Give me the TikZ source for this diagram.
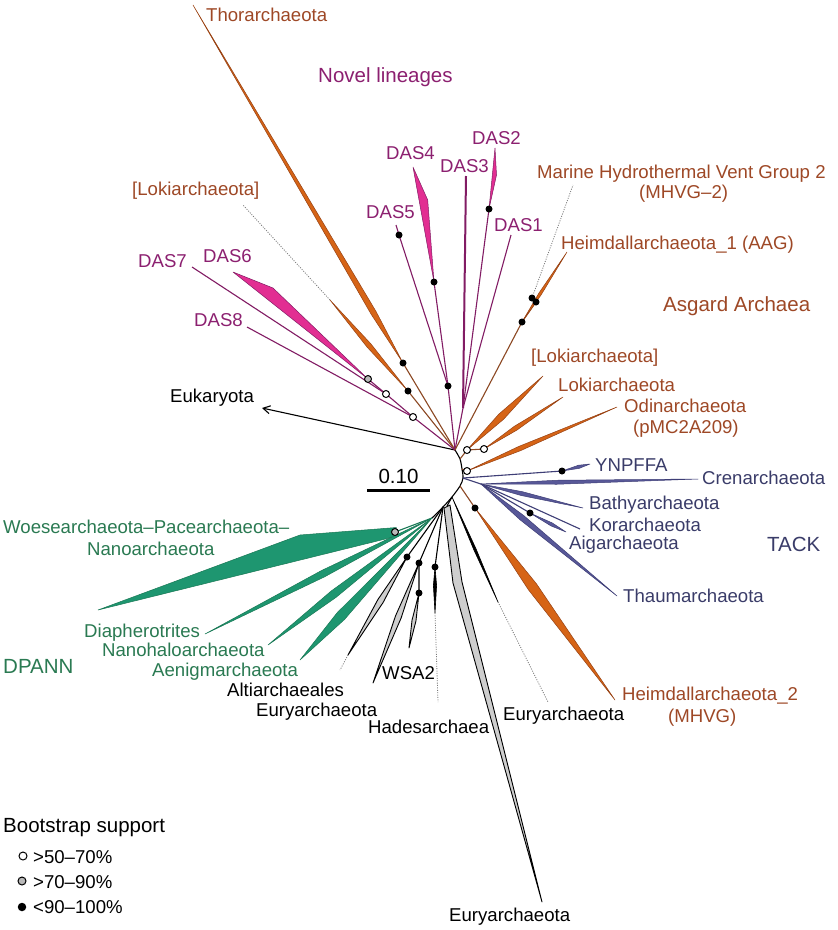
\documentclass[tikz,border=0pt]{standalone}
\usepackage{fontspec}
\setmainfont{Liberation Sans}
\usetikzlibrary{calc,arrows.meta}
\definecolor{asgfill}{RGB}{214,100,22}
\definecolor{asgdark}{RGB}{150,65,20}
\definecolor{asgline}{RGB}{140,72,35}
\definecolor{asgtext}{RGB}{158,72,38}
\definecolor{dasfill}{RGB}{226,46,146}
\definecolor{dasline}{RGB}{130,28,100}
\definecolor{dastext}{RGB}{140,32,112}
\definecolor{dpfill}{RGB}{30,150,112}
\definecolor{dpline}{RGB}{25,120,85}
\definecolor{dptext}{RGB}{42,122,82}
\definecolor{tkfill}{RGB}{88,88,152}
\definecolor{tkline}{RGB}{62,62,118}
\definecolor{tktext}{RGB}{58,60,105}
\definecolor{gyfill}{RGB}{206,206,206}
\definecolor{dotgray}{RGB}{120,120,120}
\newcommand\kite[5]{%
  \path ($(#1)!#3!(#2)$) coordinate (kitem);
  \filldraw[#5] (#1) -- ($(kitem)!#4!90:(#2)$) -- (#2) -- ($(kitem)!#4!-90:(#2)$) -- cycle;}
\tikzset{
  asgW/.style={fill=asgfill, draw=asgdark, line width=0.5pt, line join=round},
  asgL/.style={draw=asgline, line width=1.1pt},
  dasW/.style={fill=dasfill, draw=dasline, line width=0.5pt, line join=round},
  dasL/.style={draw=dasline, line width=1.1pt},
  dpW/.style={fill=dpfill, draw=dpline, line width=0.5pt, line join=round},
  dpL/.style={draw=dpline, line width=1.1pt},
  tkW/.style={fill=tkfill, draw=tkline, line width=0.5pt, line join=round},
  tkL/.style={draw=tkline, line width=1.1pt},
  gyW/.style={fill=gyfill, draw=black, line width=0.9pt, line join=round},
  bkW/.style={fill=black, draw=black, line width=0.6pt, line join=round},
  bkL/.style={draw=black, line width=1.1pt},
  dotL/.style={draw=dotgray, line width=0.8pt, dash pattern=on 1pt off 1.4pt},
  bs/.style={circle, fill=black, inner sep=0pt, minimum size=7pt},
  os/.style={circle, draw=black, fill=white, line width=1pt, inner sep=0pt, minimum size=7pt},
  gs/.style={circle, draw=black, fill=gray!55, line width=1pt, inner sep=0pt, minimum size=7pt},
  lab/.style={font=\fontsize{18.6}{22}\selectfont, inner sep=0pt, anchor=base west},
  grp/.style={font=\fontsize{20.5}{24}\selectfont, inner sep=0pt, anchor=base west},
}
\begin{document}
\begin{tikzpicture}[x=1pt,y=-1pt]
\fill[white] (0,0) rectangle (838,930);
\useasboundingbox (0,0) rectangle (838,930);
% ---------- coordinates ----------
\coordinate (J0) at (455,450);
\coordinate (JA) at (460,459);
\coordinate (JO) at (462,469);
\coordinate (JT) at (463,478);
\coordinate (JH) at (460,486);
\coordinate (JE) at (452,497);
\coordinate (JW) at (443,507);
\coordinate (JD) at (432,518);
% upper left
\coordinate (Dthor) at (403,363);
\coordinate (Tthor) at (193,5);
\coordinate (DlokL) at (408,391);
\coordinate (WlokL) at (330,300);
\coordinate (ElokL) at (243,205);
\coordinate (O8) at (413,417);
\coordinate (T8) at (247,327);
\coordinate (O7) at (386,394);
\coordinate (T7) at (192,267);
\coordinate (O6) at (368,379);
\coordinate (W6a) at (273,288);
\coordinate (T6) at (233,272);
\coordinate (D45) at (448,386);
\coordinate (D5) at (399,235);
\coordinate (T5) at (396,225);
\coordinate (D4) at (434,282);
\coordinate (W4a) at (427.7,200);
\coordinate (T4) at (413,167);
\coordinate (J123) at (463,408);
\coordinate (T3) at (466,176);
\coordinate (D2) at (489,209);
\coordinate (W2a) at (496.5,175);
\coordinate (T2) at (495,148);
\coordinate (T1) at (511,235);
\coordinate (H1a) at (522,322);
\coordinate (H1b) at (536,302);
\coordinate (TH1) at (567,252);
\coordinate (DMH) at (532,298);
\coordinate (EMH) at (573,185);
\coordinate (Euk) at (262,408);
% asgard right
\coordinate (OA) at (467,450);
\coordinate (OB) at (484,449);
\coordinate (OC) at (467,471);
\coordinate (TlokR) at (543,376);
\coordinate (Tlok) at (563,397);
\coordinate (Todin) at (617,407);
% TACK
\coordinate (TK2) at (481,484);
\coordinate (DY) at (562,471);
\coordinate (TY) at (590,464);
\coordinate (TCr) at (698,479);
\coordinate (TBa) at (583,508);
\coordinate (TKo) at (580,529);
\coordinate (DAi) at (530,513);
\coordinate (TAi) at (566,532);
\coordinate (TTh) at (617,596);
% Heimdall 2
\coordinate (DH2) at (475,508);
\coordinate (TH2) at (615,700);
% Eury etc
\coordinate (ER) at (498,602);
\coordinate (ERt) at (548,702);
\coordinate (GB0) at (447,506);
\coordinate (GB1) at (444,508);
\coordinate (GB2) at (450,505);
\coordinate (GBl) at (453,583);
\coordinate (GBr) at (462,582);
\coordinate (GBt) at (542,902);
\coordinate (DHa) at (435,567);
\coordinate (Ha1) at (435,613);
\coordinate (Hat) at (438,702);
\coordinate (DW1) at (419,563);
\coordinate (TW1) at (373,683);
\coordinate (DW2) at (419,593);
\coordinate (TW2) at (409,648);
\coordinate (DAl) at (407,557);
\coordinate (TAl) at (348,655);
\coordinate (EAl) at (340,670);
% DPANN
\coordinate (DWo) at (395,532);
\coordinate (Wo1) at (396.5,527.5);
\coordinate (Wo2) at (300,535);
\coordinate (Two) at (98,610);
\coordinate (Wo3) at (393.5,537);
\coordinate (TDi) at (205,634);
\coordinate (TNh) at (268,645);
\coordinate (TAe) at (300,660);
% scale bar
\coordinate (SB1) at (367,490);
\coordinate (SB2) at (430,490);

% ---------- backbone ----------
\draw[bkL, line join=round] plot[smooth] coordinates {(J0) (JA) (JO) (JT) (JH) (JE) (JW) (JD)};
\draw[bkL, -{Straight Barb[length=7pt,width=8pt]}] (J0) -- (Euk);

% ---------- upper clades ----------
\draw[asgL] (J0) -- (Dthor);
\draw[asgL] (J0) -- (DlokL);
\draw[dotL] (WlokL) -- (ElokL);
\draw[dasL] (J0) -- (O8) -- (T8);
\draw[dasL] (O8) -- (O7) -- (T7);
\draw[dasL] (O7) -- (O6);
\draw[dasL] (J0) -- (D45) -- (D5) -- (T5);
\draw[dasL] (D45) -- (D4);
\draw[dasL] (J0) -- (J123);
\draw[dasL, line width=2pt] (J123) -- (T3);
\draw[dasL] (J123) -- (D2);
\draw[dasL] (J123) -- (T1);
\draw[asgL] (J0) -- (H1a) -- (H1b);
\draw[asgL] (H1b) -- (DMH);
\draw[dotL] (DMH) -- (EMH);
\kite{Dthor}{Tthor}{0.14}{2.8pt}{asgW}
\kite{DlokL}{WlokL}{0.5}{2.5pt}{asgW}
\kite{H1a}{TH1}{0.4}{1.4pt}{asgW}
\filldraw[dasW] (O6) -- (W6a) -- (T6) -- cycle;
\filldraw[dasW] (D4) -- (W4a) -- (T4) -- cycle;
\filldraw[dasW] (D2) -- (W2a) -- (T2) -- cycle;

% ---------- asgard right ----------
\draw[asgL] (JA) -- (OA) -- (OB);
\draw[asgL] (JO) -- (OC);
\kite{OA}{TlokR}{0.45}{3.5pt}{asgW}
\kite{OB}{Tlok}{0.4}{2.3pt}{asgW}
\kite{OC}{Todin}{0.35}{2.3pt}{asgW}

% ---------- TACK ----------
\draw[tkL] (JT) -- (DY);
\draw[tkL] (JT) -- (TK2);
\draw[tkL] (TK2) -- (TKo);
\draw[tkL] (TK2) -- (DAi);
\kite{DY}{TY}{0.6}{1.6pt}{tkW}
\kite{TK2}{TCr}{0.35}{2pt}{tkW}
\kite{TK2}{TBa}{0.4}{2pt}{tkW}
\kite{DAi}{TAi}{0.6}{1.6pt}{tkW}
\kite{TK2}{TTh}{0.3}{2.8pt}{tkW}

% ---------- Heimdall 2 ----------
\draw[asgL] (JH) -- (DH2);
\kite{DH2}{TH2}{0.41}{5pt}{asgW}

% ---------- Euryarchaeota etc ----------
\kite{JE}{ER}{0.5}{1.2pt}{bkW}
\draw[dotL] (ER) -- (ERt);
\draw[bkL] (JE) -- (GB0);
\filldraw[gyW] (GB1) -- (GBl) -- (GBt) -- (GBr) -- (GB2) -- cycle;
\draw[bkL] (JW) -- (DHa);
\kite{DHa}{Ha1}{0.4}{1.6pt}{bkW}
\draw[dotL] (Ha1) -- (Hat);
\draw[bkL] (JW) -- (DW1) -- (DW2);
\kite{DW1}{TW1}{0.45}{3pt}{gyW}
\kite{DW2}{TW2}{0.5}{2pt}{gyW}
\draw[bkL] (JW) -- (DAl);
\kite{DAl}{TAl}{0.45}{3pt}{gyW}
\draw[dotL] (TAl) -- (EAl);

% ---------- DPANN ----------
\draw[dpL] (JD) -- (DWo);
\filldraw[dpW] (Wo1) -- (Wo2) -- (Two) -- (Wo3) -- cycle;
\kite{JD}{TDi}{0.48}{3.5pt}{dpW}
\kite{JD}{TNh}{0.6}{4pt}{dpW}
\kite{JD}{TAe}{0.69}{5pt}{dpW}

% ---------- support symbols ----------
\foreach \p in {Dthor,DlokL,D45,D5,D4,D2,H1a,H1b,DMH,DY,DAi,DH2,DAl,DW1,DW2,DHa}
  \node[bs] (s\p) at (\p) {};
\foreach \p in {O8,O7,OA,OB,OC}
  \node[os] (s\p) at (\p) {};
\foreach \p in {O6,DWo}
  \node[gs] (s\p) at (\p) {};

% ---------- scale bar ----------
\draw[line width=3pt] (SB1) -- (SB2);
\node[font=\fontsize{20.5}{24}\selectfont, inner sep=0pt, anchor=base] (scale) at (398.5,483) {0.10};

% ---------- labels ----------
\node[lab, text=asgtext] (lThor) at (206,21) {Thorarchaeota};
\node[grp, text=dastext] (lNovel) at (318,82) {Novel lineages};
\node[lab, text=dastext] (lDAS2) at (472,144) {DAS2};
\node[lab, text=dastext] (lDAS4) at (386,159) {DAS4};
\node[lab, text=dastext] (lDAS3) at (440,172) {DAS3};
\node[lab, text=dastext] (lDAS5) at (366,218) {DAS5};
\node[lab, text=dastext] (lDAS1) at (494,231) {DAS1};
\node[lab, text=dastext] (lDAS7) at (138,267) {DAS7};
\node[lab, text=dastext] (lDAS6) at (203,262) {DAS6};
\node[lab, text=dastext] (lDAS8) at (194,326) {DAS8};
\node[lab, text=asgtext] (lMH) at (537,178) {Marine Hydrothermal Vent Group 2};
\node[lab, text=asgtext] (lMH2) at (639,198) {(MHVG–2)};
\node[lab, text=asgtext] (lH1) at (561,249) {Heimdallarchaeota\_1 (AAG)};
\node[grp, text=asgtext] (lAsg) at (663,311) {Asgard Archaea};
\node[lab, text=asgtext] (lLokL) at (132,195) {[Lokiarchaeota]};
\node[lab, text=asgtext] (lLokR) at (531,362) {[Lokiarchaeota]};
\node[lab, text=asgtext] (lLok) at (558,391) {Lokiarchaeota};
\node[lab, text=asgtext] (lOdin) at (624,412) {Odinarchaeota};
\node[lab, text=asgtext] (lOdin2) at (633,433) {(pMC2A209)};
\node[lab] (lEuk) at (170,402) {Eukaryota};
\node[lab, text=tktext] (lY) at (595,471) {YNPFFA};
\node[lab, text=tktext] (lCr) at (702,484) {Crenarchaeota};
\node[lab, text=tktext] (lBa) at (589,509) {Bathyarchaeota};
\node[lab, text=tktext] (lKo) at (589,531) {Korarchaeota};
\node[lab, text=tktext] (lAi) at (569,549) {Aigarchaeota};
\node[grp, text=tktext] (lTACK) at (767,551) {TACK};
\node[lab, text=tktext] (lTh) at (623,602) {Thaumarchaeota};
\node[lab, text=asgtext] (lH2) at (622,700) {Heimdallarchaeota\_2};
\node[lab, text=asgtext] (lH2b) at (668,722) {(MHVG)};
\node[lab] (lER) at (503,720) {Euryarchaeota};
\node[lab] (lHa) at (368,733) {Hadesarchaea};
\node[lab] (lWSA) at (382,679) {WSA2};
\node[lab] (lAl) at (227,696) {Altiarchaeales};
\node[lab] (lEM) at (256,716) {Euryarchaeota};
\node[lab] (lEB) at (449,921) {Euryarchaeota};
\node[lab, text=dptext] (lWo) at (3,533) {Woesearchaeota–Pacearchaeota–};
\node[lab, text=dptext] (lNa) at (87,555) {Nanoarchaeota};
\node[lab, text=dptext] (lDi) at (84,637) {Diapherotrites};
\node[lab, text=dptext] (lNh) at (102,656) {Nanohaloarchaeota};
\node[lab, text=dptext] (lAe) at (152,676) {Aenigmarchaeota};
\node[grp, text=dptext] (lDP) at (3,673) {DPANN};

% ---------- legend ----------
\node[grp] (lBS) at (3,832) {Bootstrap support};
\node[os, minimum size=8pt] (k1) at (23,856) {};
\node[gs, minimum size=8pt] (k2) at (22,881) {};
\node[bs, minimum size=8.5pt] (k3) at (22,907) {};
\node[lab] (t1) at (33,863) {>50–70\%};
\node[lab] (t2) at (33,888) {>70–90\%};
\node[lab] (t3) at (33,913) {<90–100\%};
\end{tikzpicture}
\end{document}
